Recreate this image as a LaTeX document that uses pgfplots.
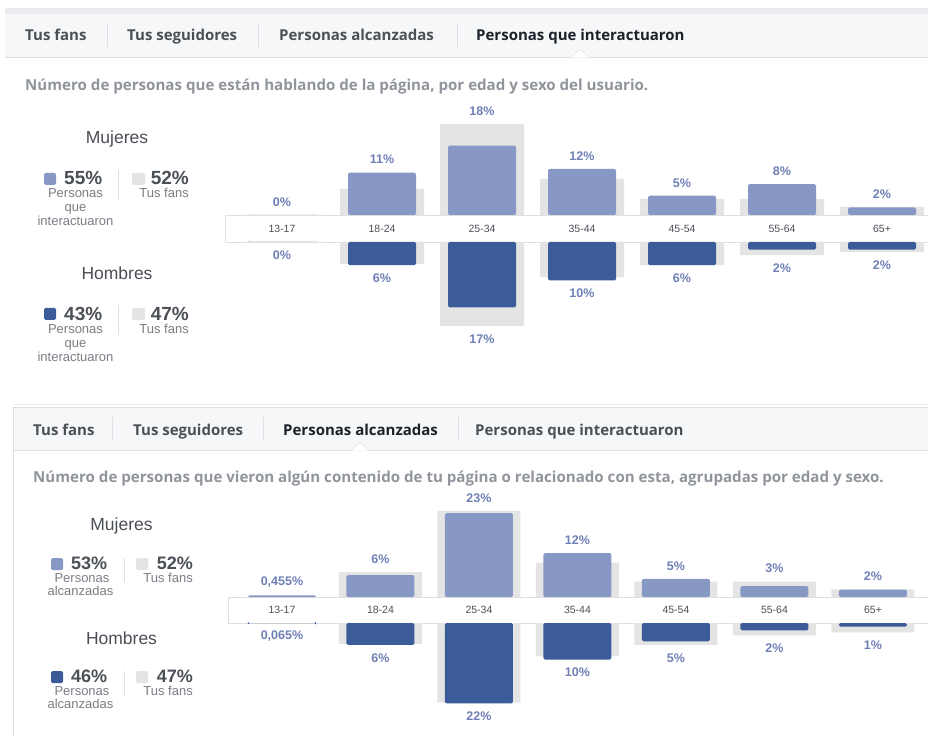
\documentclass[border=0pt]{standalone}
\usepackage{pgfplots}
\usepackage{pgfplotstable}
\pgfplotsset{compat=1.18}
\usepackage{fontspec}
\setmainfont{Liberation Sans}
\newfontfamily\uifont{Open Sans}
\definecolor{fbw}{HTML}{8898C4}
\definecolor{fbm}{HTML}{3B5C98}
\definecolor{fbfan}{HTML}{E4E4E4}
\definecolor{fblab}{HTML}{6F80B6}
\definecolor{fbtxt}{HTML}{4B4F56}
\definecolor{fbdark}{HTML}{1D2129}
\definecolor{fbgray}{HTML}{90949C}
\definecolor{fbsub}{HTML}{7A7E85}
\definecolor{fbtab}{HTML}{F6F7F9}
\definecolor{fbband}{HTML}{E9EBEE}
\definecolor{fbline}{HTML}{DDDFE2}
\newcommand\tabfont{\uifont\fontsize{15}{17}\selectfont\bfseries}
\newcommand\descfont{\uifont\fontsize{15.1}{17}\selectfont\bfseries}
\newcommand\headfont{\fontsize{17.5}{20}\selectfont}
\newcommand\numfont{\fontsize{19}{22}\selectfont\bfseries}
\newcommand\numfontb{\fontsize{18}{22}\selectfont\bfseries}
\newcommand\smfont{\fontsize{13}{14}\selectfont}

% Panel 1: Personas que interactuaron (w = mujeres, m = hombres, f = tus fans, t = label position, l = label)
\pgfplotstableread{
x  w    wf    wt    wl   m   mf    mt    ml
0  0    0     0     0    0   0     0     0
1  11   6.8   11    11   6   5.7   6     6
2  18   23.6  23.6  18   17  21.8  21.8  17
3  12   9.4   12    12   10  9.1   10    10
4  5    4.2   5     5    6   6.0   6     6
5  8    4.2   8     8    2   3.4   3.4   2
6  2    2.1   2.1   2    2   2.6   2.6   2
}\tabA
% Panel 2: Personas alcanzadas
\pgfplotstableread{
x  w      wf    wt     wl     m      mf    mt     ml
0  0.455  0     0.455  0,455  0.065  0     0.065  0,065
1  6      6.8   6.8    6      6      5.7   6      6
2  23     23.6  23.6   23     22     21.8  22     22
3  12     9.4   12     12     10     9.1   10     10
4  5      4.2   5      5      5      6.0   6.0    5
5  3      4.2   4.2    3      2      3.4   3.4    2
6  2      2.1   2.1    2      1      2.6   2.6    1
}\tabB

\pgfplotsset{
  fbaxis/.style={clip=false, axis line style={draw=none}, major tick length=0pt,
    ytick=\empty, ymin=0, ymax=30, xtick={0,...,6}},
  fbfanbar/.style={ybar, fill=fbfan, draw=none, bar width=#1},
  fbbar/.style 2 args={ybar, fill=#1, draw=none, bar width=#2, rounded corners=1.5pt},
  fblabels/.style={draw=none, mark=none, nodes near coords, point meta=explicit symbolic,
    nodes near coords={\pgfplotspointmeta\%},
    every node near coord/.append style={anchor=center, yshift=#1,
      font=\fontsize{12.5}{14}\selectfont\bfseries, text=fblab, inner sep=0pt}},
  fbticks/.style={xticklabels={13-17,18-24,25-34,35-44,45-54,55-64,65+},
    xticklabel style={anchor=center, yshift=#1, font=\fontsize{10.5}{12}\selectfont, text=fbtxt}},
}

\begin{document}
\begin{tikzpicture}
\path[use as bounding box, fill=white] (0,0) rectangle (928pt,737pt);
\begin{scope}[x=1pt, y=-1pt, yshift=737pt]
% ---------- Panel 1 tabs ----------
\fill[fbband] (5,8) rectangle (928,14);
\fill[fbtab] (5,14) rectangle (928,57);
\draw[fbline] (5,57) -- (928,57);
\foreach \sx in {107,258,457} \draw[fbline] (\sx,24) -- (\sx,47);
\fill[white] (571,57.6) -- (580,49.5) -- (589,57.6) -- cycle;
\draw[fbline] (571,57) -- (580,49.5) -- (589,57);
\node[anchor=base west, inner sep=0, font=\tabfont, text=fbtxt] at (25,41) {Tus fans};
\node[anchor=base west, inner sep=0, font=\tabfont, text=fbtxt] at (127,41) {Tus seguidores};
\node[anchor=base west, inner sep=0, font=\tabfont, text=fbtxt] at (279,41) {Personas alcanzadas};
\node[anchor=base west, inner sep=0, font=\tabfont, text=fbdark] at (476,41) {Personas que interactuaron};
\node[anchor=base west, inner sep=0, font=\descfont, text=fbgray] at (25,91) {Número de personas que están hablando de la página, por edad y sexo del usuario.};
% ---------- Panel 1 legend ----------
\node[font=\headfont, text=fbtxt] at (117,139) {Mujeres};
\fill[fbw, rounded corners=1.5pt] (44,173) rectangle (56,185);
\node[anchor=base west, inner sep=0, font=\numfont, text=fbtxt] at (64,185) {55\%};
\node[anchor=base, font=\smfont, text=fbsub, inner sep=0] at (75.5,198) {Personas};
\node[anchor=base, font=\smfont, text=fbsub, inner sep=0] at (75.5,212) {que};
\node[anchor=base, font=\smfont, text=fbsub, inner sep=0] at (75.5,226) {interactuaron};
\draw[fbline] (118,170) -- (118,200);
\fill[fbfan, rounded corners=1.5pt] (132,173) rectangle (145,185);
\node[anchor=base east, inner sep=0, font=\numfont, text=fbtxt] at (189,185) {52\%};
\node[anchor=base east, inner sep=0, font=\smfont, text=fbsub] at (189,198) {Tus fans};
\node[font=\headfont, text=fbtxt] at (117,273) {Hombres};
\fill[fbm, rounded corners=1.5pt] (44,308) rectangle (56,320);
\node[anchor=base west, inner sep=0, font=\numfont, text=fbtxt] at (64,321) {43\%};
\node[anchor=base, font=\smfont, text=fbsub, inner sep=0] at (75.5,334) {Personas};
\node[anchor=base, font=\smfont, text=fbsub, inner sep=0] at (75.5,348) {que};
\node[anchor=base, font=\smfont, text=fbsub, inner sep=0] at (75.5,362) {interactuaron};
\draw[fbline] (118,305) -- (118,335);
\fill[fbfan, rounded corners=1.5pt] (132,308) rectangle (145,320);
\node[anchor=base east, inner sep=0, font=\numfont, text=fbtxt] at (189,321) {47\%};
\node[anchor=base east, inner sep=0, font=\smfont, text=fbsub] at (189,334) {Tus fans};
% strip 1
\fill[white] (225,215) rectangle (928,242);
\draw[fbline] (225,215) -- (928,215) (225,242) -- (928,242) (225,215) -- (225,242);
% ---------- Panel 2 tabs ----------
\draw[fbline!70] (14,404) -- (928,404);
\fill[fbtab] (14,407) rectangle (928,450);
\draw[fbline] (14,407) -- (928,407);
\draw[fbline] (14,450) -- (928,450);
\draw[fbline] (13,407) -- (13,737);
\foreach \sx in {112,263,458} \draw[fbline] (\sx,417) -- (\sx,440);
\fill[white] (351,450.6) -- (360,442.5) -- (369,450.6) -- cycle;
\draw[fbline] (351,450) -- (360,442.5) -- (369,450);
\node[anchor=base west, inner sep=0, font=\tabfont, text=fbtxt] at (33,435) {Tus fans};
\node[anchor=base west, inner sep=0, font=\tabfont, text=fbtxt] at (133,435) {Tus seguidores};
\node[anchor=base west, inner sep=0, font=\tabfont, text=fbdark] at (283,435) {Personas alcanzadas};
\node[anchor=base west, inner sep=0, font=\tabfont, text=fbtxt] at (475,435) {Personas que interactuaron};
\node[anchor=base west, inner sep=0, font=\descfont, text=fbgray] at (33,482) {Número de personas que vieron algún contenido de tu página o relacionado con esta, agrupadas por edad y sexo.};
% ---------- Panel 2 legend ----------
\node[font=\headfont, text=fbtxt] at (121.5,526) {Mujeres};
\fill[fbw, rounded corners=1.5pt] (51,558) rectangle (63,570);
\node[anchor=base west, inner sep=0, font=\numfontb, text=fbtxt] at (71,569.5) {53\%};
\node[anchor=base, font=\smfont, text=fbsub, inner sep=0] at (82,582.5) {Personas};
\node[anchor=base, font=\smfont, text=fbsub, inner sep=0] at (80.5,595.5) {alcanzadas};
\draw[fbline] (124,558) -- (124,582);
\fill[fbfan, rounded corners=1.5pt] (136,558) rectangle (148,570);
\node[anchor=base east, inner sep=0, font=\numfontb, text=fbtxt] at (193,569.5) {52\%};
\node[anchor=base east, inner sep=0, font=\smfont, text=fbsub] at (193,582.5) {Tus fans};
\node[font=\headfont, text=fbtxt] at (121.5,638) {Hombres};
\fill[fbm, rounded corners=1.5pt] (51,671) rectangle (63,683);
\node[anchor=base west, inner sep=0, font=\numfontb, text=fbtxt] at (71,682.5) {46\%};
\node[anchor=base, font=\smfont, text=fbsub, inner sep=0] at (82,695.5) {Personas};
\node[anchor=base, font=\smfont, text=fbsub, inner sep=0] at (80.5,708.5) {alcanzadas};
\draw[fbline] (124,671) -- (124,695);
\fill[fbfan, rounded corners=1.5pt] (136,671) rectangle (148,683);
\node[anchor=base east, inner sep=0, font=\numfontb, text=fbtxt] at (193,682.5) {47\%};
\node[anchor=base east, inner sep=0, font=\smfont, text=fbsub] at (193,695.5) {Tus fans};
% strip 2
\fill[white] (228,597) rectangle (928,623);
\draw[fbline] (228,597) -- (928,597) (228,623) -- (928,623) (228,597) -- (228,623);
\end{scope}

% ---------- Panel 1 axes ----------
\begin{axis}[fbaxis, fbticks=-13.5pt, at={(225pt,522pt)}, anchor=south west,
  x=100pt, y=3.85pt, xmin=-0.57, xmax=6.46]
\addplot[fbfanbar=84pt] table[x=x, y=wf] {\tabA};
\addplot[fbbar={fbw}{68pt}] table[x=x, y=w] {\tabA};
\addplot[fblabels=13pt] table[x=x, y=wt, meta=wl] {\tabA};
\end{axis}
\begin{axis}[fbaxis, xtick=\empty, y dir=reverse, at={(225pt,495pt)}, anchor=north west,
  x=100pt, y=3.85pt, xmin=-0.57, xmax=6.46]
\addplot[fbfanbar=84pt] table[x=x, y=mf] {\tabA};
\addplot[fbbar={fbm}{68pt}] table[x=x, y=m] {\tabA};
\addplot[fblabels=-13pt] table[x=x, y=mt, meta=ml] {\tabA};
\end{axis}

% ---------- Panel 2 axes ----------
\begin{axis}[fbaxis, fbticks=-13pt, at={(228pt,140pt)}, anchor=south west,
  x=98.5pt, y=3.65pt, xmin=-0.548, xmax=6.558]
\addplot[fbfanbar=83pt] table[x=x, y=wf] {\tabB};
\addplot[fbbar={fbw}{68pt}] table[x=x, y=w] {\tabB};
\addplot[fblabels=13pt] table[x=x, y=wt, meta=wl] {\tabB};
\end{axis}
\begin{axis}[fbaxis, xtick=\empty, y dir=reverse, at={(228pt,114pt)}, anchor=north west,
  x=98.5pt, y=3.65pt, xmin=-0.548, xmax=6.558]
\addplot[fbfanbar=83pt] table[x=x, y=mf] {\tabB};
\addplot[fbbar={fbm}{68pt}] table[x=x, y=m] {\tabB};
\addplot[fblabels=-13pt] table[x=x, y=mt, meta=ml] {\tabB};
\end{axis}
\end{tikzpicture}
\end{document}
